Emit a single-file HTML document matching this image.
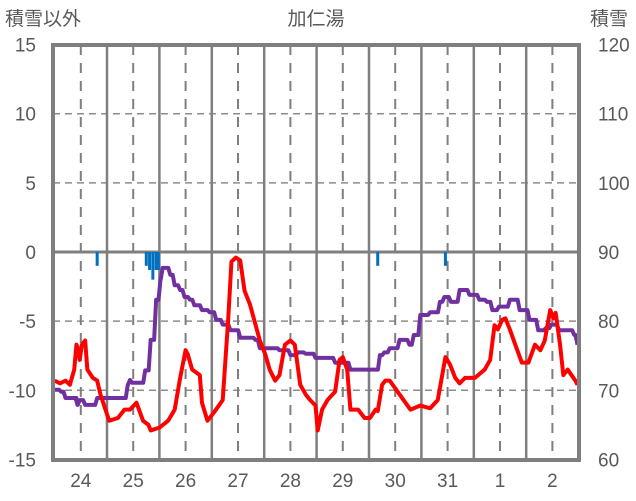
<!DOCTYPE html>
<html><head><meta charset="utf-8">
<style>
html,body{margin:0;padding:0;background:#fff;}
svg{display:block;font-family:"Liberation Sans","Noto Sans CJK JP",sans-serif;}
</style></head>
<body>
<svg id="chart" width="636" height="501" viewBox="0 0 636 501" xmlns="http://www.w3.org/2000/svg">
<text x="316" y="25" font-size="19" fill="#595959" text-anchor="middle">加仁湯</text>
<text x="5" y="25" font-size="19" fill="#595959">積雪以外</text>
<text x="590" y="25" font-size="19" fill="#595959">積雪</text>
<g id="grid"></g>
<g id="bars"></g>
<g id="lines"></g>
<g id="axes"></g>
</svg>
<script>
const leftTicks=[15,10,5,0,-5,-10,-15];
const rightTicks=[120,110,100,90,80,70,60];
const dayLabels=["24","25","26","27","28","29","30","31","1","2"];
const tempHours=[0,2.5,5,7,9,10,11,11.5,12.5,14,15,17.5,19.5,21,25,29,32,34.5,37.5,40.5,43,44,48,52,55,57.5,60,61,63,66.5,67.5,70,73,77,79.5,81,83,85,87,89.5,94,96.5,98.5,101,103,105.5,108,110,112.5,115,117,119.5,120.5,122.5,125,128.5,130.5,132,134,135.5,139,142,144.5,147,148,150,151.5,153.5,158,163,167.5,172,175.5,179,181,183.5,185.5,188,192.5,197,199.5,201.5,203,205,206.5,208.5,211,214,217,220,222.5,224.5,227,228.5,229.5,231.5,233,235,238.5,239.5];
const tempValues=[-9.3,-9.5,-9.3,-9.6,-8.5,-6.7,-7.1,-7.8,-6.7,-6.4,-8.5,-9.1,-9.3,-10.3,-12.2,-12.0,-11.4,-11.4,-10.9,-12.2,-12.5,-12.9,-12.7,-12.2,-11.4,-9.1,-7.1,-7.4,-8.5,-8.9,-10.9,-12.2,-11.6,-10.7,-4.9,-0.7,-0.4,-0.6,-2.8,-3.8,-6.4,-7.4,-8.5,-9.3,-8.9,-6.7,-6.4,-6.7,-9.6,-10.3,-10.7,-11.1,-12.9,-11.4,-10.7,-10.1,-7.8,-7.6,-8.5,-11.4,-11.4,-12.0,-12.0,-11.4,-11.5,-9.6,-9.3,-9.3,-10.3,-11.4,-11.1,-11.3,-10.7,-7.6,-8.1,-9.1,-9.5,-9.1,-9.1,-8.5,-7.8,-5.3,-5.6,-4.9,-4.8,-5.6,-6.7,-8.0,-8.0,-6.7,-7.1,-6.4,-4.2,-4.8,-4.4,-6.7,-8.9,-8.5,-9.3,-9.6];
const snowHours=[0,3,5,10,10.5,11.5,14,18.5,19.5,25,31,33.5,34.5,35.5,39,41.5,44,46.5,48.5,49.5,51.5,53,55,57.5,59.5,62,64,67.5,71,74,77,80.5,85,92,94,103,105.5,108,111.5,115,119.5,128.5,135.5,144.5,146.5,149,151,153.5,158,160,162.5,164.5,167.5,172,176.5,178.5,181.5,185.5,190,194.5,198,200.5,203.5,208.5,213,217.5,221.5,225,227.5,231,235.5,238,239.5];
const snowValues=[70.1,69.8,68.9,68.9,67.9,68.6,67.9,67.9,68.9,68.9,68.9,70.8,71.5,71.1,71.1,72.9,77.3,83.1,86.0,87.7,87.7,86.7,85.2,84.5,83.5,83.1,82.3,81.6,81.3,80.2,79.5,78.7,77.6,77.3,76.1,75.8,75.8,75.1,75.5,75.3,74.7,74.0,73.0,73.0,73.0,75.1,75.5,76.1,77.3,77.3,76.6,78.0,80.9,81.3,82.8,83.5,82.8,84.5,83.8,83.1,82.8,81.6,82.1,83.1,81.6,80.2,78.7,79.0,79.5,78.7,78.7,78.0,76.6];
const precipHours=[19.5,42,43.5,45,46.5,47.5,148,179];
const precipValues=[1.0,1.0,1.3,2.0,1.3,1.3,1.0,1.0];

const NS="http://www.w3.org/2000/svg";
const X0=54.6, PXH=52.4/24, L=53, R=579, T=45, B=460;
const xh=h=>X0+h*PXH;
const yL=v=>252-v*13.83;
const yR=s=>252-(s-90)*6.92;
function mk(tag,parent,attrs){const e=document.createElementNS(NS,tag);for(const k in attrs)e.setAttribute(k,attrs[k]);parent.appendChild(e);return e;}
const grid=document.getElementById('grid'),axes=document.getElementById('axes'),bars=document.getElementById('bars'),lines=document.getElementById('lines');

leftTicks.forEach((t,i)=>{
  const y=yL(t);
  if(t!==15&&t!==-15){
    const ln=mk('line',grid,{x1:L,x2:R,y1:y,y2:y,stroke:t===0?'#7f7f7f':'#8c8c8c','stroke-width':t===0?3:1.5,'stroke-dasharray':t===0?'none':'7,5'});
    
    
  }
  const tx=mk('text',axes,{x:36,y:y+7,'font-size':19,fill:'#595959','text-anchor':'end'});
  tx.textContent=t;
  
  
  const rt=mk('text',axes,{x:598,y:y+7,'font-size':19,fill:'#595959'});
  rt.textContent=rightTicks[i];
  
  
});
dayLabels.forEach((d,i)=>{
  const xn=xh(i*24+12), xm=xh((i+1)*24);
  const dl=mk('line',grid,{x1:xn,x2:xn,y1:T,y2:B,stroke:'#7f7f7f','stroke-width':2,'stroke-dasharray':'10,8'});
  
  
  if(i<dayLabels.length-1){
    const sl=mk('line',grid,{x1:xm,x2:xm,y1:T,y2:B,stroke:'#7f7f7f','stroke-width':2.5});
    
    
  }
  const tx=mk('text',axes,{x:xn,y:487,'font-size':19,fill:'#595959','text-anchor':'middle'});
  tx.textContent=d;
  
  
});
precipHours.forEach((h,i)=>{
  const r=mk('rect',bars,{x:xh(h)-1.5,y:yL(0),width:3,height:yL(-precipValues[i])-yL(0),fill:'#0070c0'});
  
  
});
// stepped snow line
let spPts=[];
snowHours.forEach((h,i)=>{
  if(i>0){spPts.push((xh(h)-2)+','+yR(snowValues[i-1]));}
  spPts.push(xh(h)+','+yR(snowValues[i]));
});
const sp=mk('polyline',lines,{points:spPts.join(' '),fill:'none',stroke:'#7030a0','stroke-width':4,'stroke-linejoin':'round'});


const tp=mk('polyline',lines,{points:tempHours.map((h,i)=>xh(h)+','+yL(tempValues[i])).join(' '),fill:'none',stroke:'#ff0000','stroke-width':4,'stroke-linejoin':'round'});


const fr=mk('rect',axes,{x:L,y:T,width:R-L,height:B-T,fill:'none',stroke:'#7f7f7f','stroke-width':4});


</script>
</body></html>
